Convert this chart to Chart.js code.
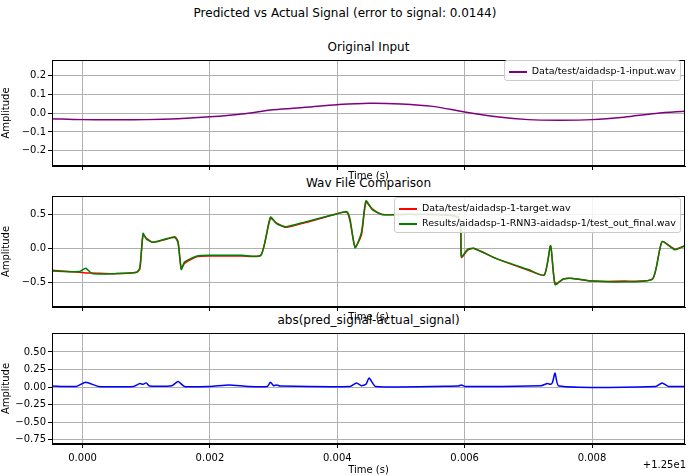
<!DOCTYPE html>
<html><head><meta charset="utf-8">
<script src="https://cdn.jsdelivr.net/npm/chart.js@4"></script>
<style>
body{margin:0;width:690px;height:476px;background:#fff;font-family:"DejaVu Sans";position:relative;overflow:hidden}
.c{position:absolute;left:0;width:690px}
.t{position:absolute;left:52px;width:633px;text-align:center;font-size:12px;color:#000}
.lg{position:absolute;background:rgba(255,255,255,0.85);border:1px solid #ccc;border-radius:3px;font-size:9.5px;padding:2px 4px;line-height:15px;white-space:nowrap}
.lg i{display:inline-block;width:18px;height:2px;vertical-align:middle;margin-right:5px}
</style></head><body>
<div class="t" style="top:6px;left:0;width:690px;">Predicted vs Actual Signal (error to signal: 0.0144)</div>
<div class="t" style="top:40px">Original Input</div>
<div class="t" style="top:176px">Wav File Comparison</div>
<div class="t" style="top:313px">abs(pred_signal-actual_signal)</div>
<div class="c" style="top:52px;height:130px"><canvas id="c1"></canvas></div>
<div class="c" style="top:188px;height:135px"><canvas id="c2"></canvas></div>
<div class="c" style="top:325px;height:151px"><canvas id="c3"></canvas></div>
<div class="lg" style="right:9px;top:60px"><i style="background:purple"></i>Data/test/aidadsp-1-input.wav</div>
<div class="lg" style="right:9px;top:197px"><i style="background:red"></i>Data/test/aidadsp-1-target.wav<br><i style="background:green"></i>Results/aidadsp-1-RNN3-aidadsp-1/test_out_final.wav</div>
<div style="position:absolute;right:4px;top:459px;font-size:10px">+1.25e1</div>
<script>
// times in ms (offset from 12.5 s)
var inputT = [-0.5,0,0.5,1,1.5,2,2.5,3,3.5,4,4.5,5,5.5,6,6.5,7,7.5,8,8.5,9,9.5];
var inputV = [-0.03,-0.035,-0.036,-0.035,-0.03,-0.02,-0.005,0.017,0.03,0.044,0.052,0.048,0.035,0.005,-0.02,-0.035,-0.038,-0.035,-0.022,-0.002,0.01];

var sigT = [-0.5,-0.05,0.05,0.15,0.5,0.85,0.9,0.95,1.0,1.1,1.3,1.45,1.5,1.55,1.6,1.8,2.0,2.5,2.8,2.95,3.05,3.2,3.5,4.0,4.15,4.2,4.28,4.38,4.45,4.55,4.7,5.2,5.9,5.95,6.05,6.15,6.5,7.0,7.25,7.35,7.42,7.55,7.7,8.0,8.5,8.95,9.1,9.3,9.46];
var targetV = [-0.32,-0.35,-0.36,-0.36,-0.37,-0.35,-0.3,0.2,0.15,0.09,0.13,0.17,0.1,-0.3,-0.22,-0.12,-0.11,-0.11,-0.1,0.44,0.37,0.31,0.38,0.51,0.53,0.4,0.02,0.2,0.68,0.58,0.5,0.5,0.45,-0.13,-0.02,0.0,-0.15,-0.32,-0.39,0.04,-0.52,-0.45,-0.44,-0.48,-0.48,-0.45,0.1,-0.01,0.04];
var predV = [-0.33,-0.34,-0.29,-0.37,-0.37,-0.35,-0.28,0.22,0.14,0.09,0.14,0.16,0.08,-0.31,-0.2,-0.11,-0.1,-0.1,-0.1,0.46,0.36,0.32,0.39,0.51,0.54,0.43,0.01,0.24,0.7,0.57,0.5,0.5,0.46,-0.12,-0.01,0.0,-0.15,-0.31,-0.39,0.04,-0.53,-0.45,-0.44,-0.48,-0.49,-0.45,0.1,-0.02,0.04];

var errT = [-0.5,-0.1,0.05,0.25,0.8,0.9,0.95,1.0,1.05,1.4,1.5,1.6,2.0,2.3,2.6,2.9,2.95,3.0,3.05,3.1,4.2,4.3,4.38,4.45,4.5,4.6,5.9,5.95,6.0,7.2,7.3,7.35,7.38,7.42,7.48,9.0,9.1,9.2,9.46];
var errV = [0.015,0.01,0.07,0.01,0.01,0.05,0.04,0.06,0.015,0.02,0.08,0.01,0.01,0.03,0.01,0.01,0.07,0.02,0.03,0.015,0.01,0.06,0.02,0.04,0.13,0.01,0.015,0.03,0.01,0.02,0.05,0.04,0.07,0.2,0.015,0.01,0.06,0.01,0.01];

var xTicks = [0,0.002,0.004,0.006,0.008];

function pts(t, v) {
    var out = [];
    for (var i = 0; i < t.length; i++) out.push({x: t[i] / 1000, y: v[i]});
    return out;
}

var frame = {
    id: 'frame',
    afterDraw: function (chart) {
        var a = chart.chartArea, ctx = chart.ctx;
        ctx.save();
        ctx.strokeStyle = '#000';
        ctx.lineWidth = 1;
        ctx.strokeRect(a.left + 0.5, a.top + 0.5, a.right - a.left - 1, a.bottom - a.top - 1);
        ctx.restore();
    }
};

function makeChart(id, datasets, ymin, ymax, yTicks, yDec, showX) {
    return new Chart(document.getElementById(id), {
        type: 'line',
        data: {datasets: datasets},
        plugins: [frame],
        options: {
            responsive: true, maintainAspectRatio: false, animation: false,
            layout: {padding: {top: 5, right: 5}},
            plugins: {legend: {display: false}, tooltip: {enabled: false}},
            elements: {point: {radius: 0}, line: {tension: 0.35, borderWidth: 1.5}},
            scales: {
                x: {
                    type: 'linear', min: -0.00048, max: 0.00946,
                    afterBuildTicks: function (s) { s.ticks = xTicks.map(function (v) { return {value: v}; }); },
                    afterFit: function (s) { s.height = showX ? 32 : 16; },
                    grid: {color: '#b0b0b0', tickColor: '#000', tickLength: 4},
                    border: {color: '#000'},
                    ticks: {display: showX, color: '#000', font: {size: 10, family: 'DejaVu Sans'}, padding: 4,
                        callback: function (v) { return v.toFixed(3); }},
                    title: {display: true, text: 'Time (s)', color: '#000', padding: 0, font: {size: 10, family: 'DejaVu Sans'}}
                },
                y: {
                    min: ymin, max: ymax,
                    afterBuildTicks: function (s) { s.ticks = yTicks.map(function (v) { return {value: v}; }); },
                    afterFit: function (s) { s.width = 52; },
                    grid: {color: '#b0b0b0', tickColor: '#000', tickLength: 4},
                    border: {color: '#000'},
                    ticks: {color: '#000', font: {size: 10, family: 'DejaVu Sans'}, padding: 2,
                        callback: function (v) { return v.toFixed(yDec).replace('-', '\u2212'); }},
                    title: {display: true, text: 'Amplitude', color: '#000', padding: 0, font: {size: 10, family: 'DejaVu Sans'}}
                }
            }
        }
    });
}

makeChart('c1', [{data: pts(inputT, inputV), borderColor: 'purple'}],
    -0.28, 0.28, [-0.2, -0.1, 0, 0.1, 0.2], 1, false);
makeChart('c2', [
    {data: pts(sigT, targetV), borderColor: 'red', tension: 0.2, order: 2},
    {data: pts(sigT, predV), borderColor: 'green', tension: 0.2, order: 1}],
    -0.86, 0.77, [-0.5, 0, 0.5], 1, false);
makeChart('c3', [{data: pts(errT, errV), borderColor: 'blue', tension: 0.2}],
    -0.81, 0.77, [-0.75, -0.5, -0.25, 0, 0.25, 0.5], 2, true);
</script>
</body></html>
